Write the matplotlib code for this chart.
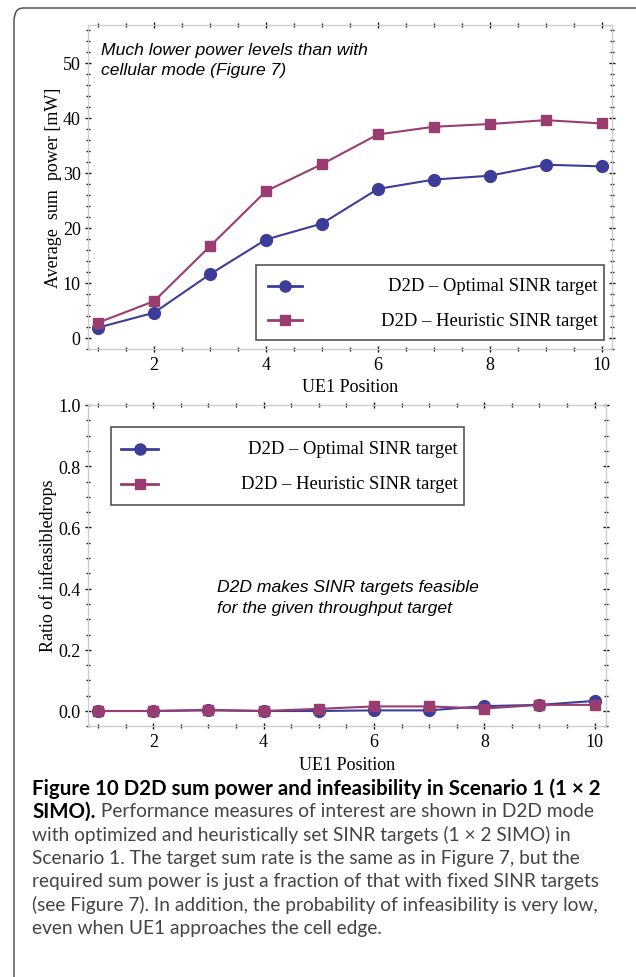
import matplotlib
matplotlib.use('Agg')
import matplotlib.pyplot as plt
from matplotlib.lines import Line2D
from matplotlib.patches import Rectangle, FancyBboxPatch
from matplotlib.ticker import MultipleLocator, FormatStrFormatter

# data
positions = [1, 2, 3, 4, 5, 6, 7, 8, 9, 10]
power_optimal = [1.9, 4.6, 11.6, 17.9, 20.8, 27.1, 28.8, 29.5, 31.5, 31.2]
power_heuristic = [2.8, 6.7, 16.7, 26.7, 31.6, 37.0, 38.4, 38.9, 39.6, 39.0]
infeas_optimal = [0.0, 0.0, 0.002, 0.0, 0.0, 0.002, 0.002, 0.016, 0.02, 0.033]
infeas_heuristic = [0.0, 0.0, 0.004, 0.0, 0.007, 0.015, 0.015, 0.008, 0.02, 0.02]
series_labels = ['D2D \u2013 Optimal SINR target', 'D2D \u2013 Heuristic SINR target']

caption_title = 'Figure 10 D2D sum power and infeasibility in Scenario 1 (1 \u00d7 2'
caption_title_end = 'SIMO).'
caption_first = ' Performance measures of interest are shown in D2D mode'
caption_body = [
    'with optimized and heuristically set SINR targets (1 \u00d7 2 SIMO) in',
    'Scenario 1. The target sum rate is the same as in Figure 7, but the',
    'required sum power is just a fraction of that with fixed SINR targets',
    '(see Figure 7). In addition, the probability of infeasibility is very low,',
    'even when UE1 approaches the cell edge.',
]

W, H = 636, 978
BLUE = '#3d3d99'
PURPLE = '#993d71'
SERIF = 'Liberation Serif'
SANS = 'Liberation Sans'
CAP = 'Lato'

fig = plt.figure(figsize=(W / 100, H / 100), dpi=100)


def fx(x):
    return x / W


def fy(y):
    return 1 - y / H


def style_axes(ax, ymajor, yminor):
    for s in ax.spines.values():
        s.set_color('#cccccc')
        s.set_linewidth(1.0)
    ax.xaxis.set_major_locator(MultipleLocator(2))
    ax.xaxis.set_minor_locator(MultipleLocator(0.5))
    ax.yaxis.set_major_locator(MultipleLocator(ymajor))
    ax.yaxis.set_minor_locator(MultipleLocator(yminor))
    ax.tick_params(which='both', direction='inout', top=True, right=True,
                   color='#111111', width=1.0)
    ax.tick_params(which='major', length=4, labelsize=13, pad=3)
    ax.tick_params(which='minor', length=2.5)
    for t in ax.get_xticklabels() + ax.get_yticklabels():
        t.set_fontfamily(SERIF)


def draw_legend(x0, y0, x1, y1, rows, hx0, hx1, text_right):
    fig.add_artist(Rectangle((fx(x0), fy(y1)), fx(x1 - x0), (y1 - y0) / H,
                             transform=fig.transFigure, facecolor='white',
                             edgecolor='#555555', linewidth=1.2, zorder=5))
    styles = [(BLUE, 'o', 8.0), (PURPLE, 's', 7.5)]
    for (col, mk, ms), ry, lab in zip(styles, rows, series_labels):
        fig.add_artist(Line2D([fx(hx0), fx(hx1)], [fy(ry), fy(ry)],
                              transform=fig.transFigure, color=col, lw=2, zorder=6))
        fig.add_artist(Line2D([fx((hx0 + hx1) / 2)], [fy(ry)], transform=fig.transFigure,
                              color=col, marker=mk, markersize=ms, lw=0, zorder=6))
        fig.text(fx(text_right), fy(ry), lab, ha='right', va='center',
                 fontsize=13.4, family=SERIF, zorder=7)


# Top panel: average sum power
ax1 = fig.add_axes([fx(87.6), fy(350), fx(611.7 - 87.6), 324 / H])
ax1.plot(positions, power_optimal, color=BLUE, marker='o', markersize=8.5, lw=1.5)
ax1.plot(positions, power_heuristic, color=PURPLE, marker='s', markersize=7.5, lw=1.5)
ax1.set_xlim(0.81, 10.18)
ax1.set_ylim(-2.0, 56.9)
style_axes(ax1, 10, 2)
ax1.set_xlabel('UE1 Position', fontsize=13, family=SERIF)
ax1.set_ylabel('Average  sum  power [mW]', fontsize=13, family=SERIF)
ax1.xaxis.set_label_coords(0.5, (350 - 387) / 324)
ax1.xaxis.label.set_va('center')
ax1.yaxis.set_label_coords((53 - 87.6) / 524.1, (350 - 187.5) / 324)
ax1.yaxis.label.set_va('center')
fig.text(fx(101), fy(50), 'Much lower power levels than with', style='italic',
         family=SANS, fontsize=12.6, va='center')
fig.text(fx(101), fy(71), 'cellular mode (Figure 7)', style='italic',
         family=SANS, fontsize=12.6, va='center')
draw_legend(256, 266, 604, 341, [287, 321], 268, 302, 598)

# Bottom panel: ratio of infeasible drops
ax2 = fig.add_axes([fx(87.6), fy(727.3), fx(605.7 - 87.6), 321.3 / H])
ax2.plot(positions, infeas_optimal, color=BLUE, marker='o', markersize=8.5, lw=1.5)
ax2.plot(positions, infeas_heuristic, color=PURPLE, marker='s', markersize=7.5, lw=1.5)
ax2.set_xlim(0.81, 10.2)
ax2.set_ylim(-0.05, 1.0)
style_axes(ax2, 0.2, 0.05)
ax2.yaxis.set_major_formatter(FormatStrFormatter('%.1f'))
ax2.set_xlabel('UE1 Position', fontsize=13, family=SERIF)
ax2.set_ylabel('Ratio of infeasibledrops', fontsize=13, family=SERIF)
ax2.xaxis.set_label_coords(0.5, (727.3 - 765.7) / 321.3)
ax2.xaxis.label.set_va('center')
ax2.yaxis.set_label_coords((48 - 87.6) / 518.1, (727.3 - 566) / 321.3)
ax2.yaxis.label.set_va('center')
fig.text(fx(217), fy(588), 'D2D makes SINR targets feasible', style='italic',
         family=SANS, fontsize=12.6, va='center')
fig.text(fx(217), fy(609), 'for the given throughput target', style='italic',
         family=SANS, fontsize=12.6, va='center')
draw_legend(110.7, 428, 464, 506, [450, 485], 121, 158, 457.6)

# page frame with rounded corner
fig.add_artist(FancyBboxPatch((fx(14), fy(1010)), fx(700), 1001 / H,
                              boxstyle='round,pad=0,rounding_size=0.014',
                              transform=fig.transFigure, facecolor='none',
                              edgecolor='#444444', linewidth=1.0, zorder=0))

# caption
bold_size = 14.8
reg_size = 13.8
cap_x = 32
cap_y = [788.3, 811.7, 835, 858.3, 881.7, 905, 928.3]
fig.text(fx(cap_x), fy(cap_y[0]), caption_title, family=CAP, fontweight='bold',
         fontsize=bold_size, va='center', color='black')
bold2 = fig.text(fx(cap_x), fy(cap_y[1]), caption_title_end, family=CAP,
                 fontweight='bold', fontsize=bold_size, va='center', color='black')
fig.canvas.draw()
bb = bold2.get_window_extent()
fig.text(bb.x1 / W, fy(cap_y[1]), caption_first, family=CAP, fontsize=reg_size,
         va='center', color='#444444')
for line, y in zip(caption_body, cap_y[2:]):
    fig.text(fx(cap_x), fy(y), line, family=CAP, fontsize=reg_size, va='center',
             color='#444444')

fig.savefig('out.png', dpi=100)
